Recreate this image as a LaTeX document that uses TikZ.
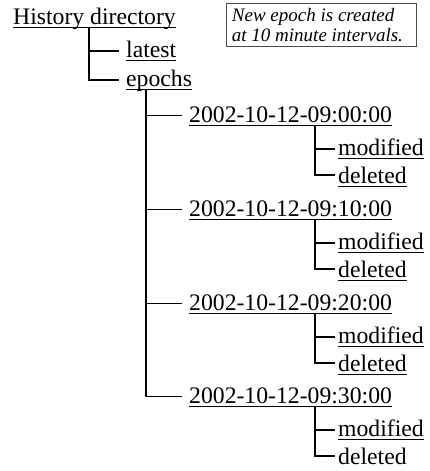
\documentclass[tikz,border=0pt]{standalone}
\usepackage{fontspec}
\setmainfont{Liberation Serif}
\begin{document}
\begin{tikzpicture}[x=1pt,y=-1pt,
  lbl/.style={anchor=base west, inner sep=0pt, font=\fontsize{23.7}{28}\selectfont},
  uline/.style={draw, line width=0.9pt},
  ul/.style={append after command={([yshift=-3pt]\tikzlastnode.base west) edge[uline] ([yshift=-3pt]\tikzlastnode.base east)}},
  branch/.style={line width=1.1pt},
  note/.style={draw=black!70, line width=0.9pt, anchor=north west, inner xsep=5.5pt, inner ysep=4.5pt,
    text width=179pt, align=flush left, font=\fontsize{19}{20.5}\selectfont\itshape},
]
\useasboundingbox (0,0) rectangle (430,471);

% root and its two children
\node[lbl,ul] (hd) at (13,24) {History directory};
\node[lbl,ul] (latest) at (126,57) {latest};
\node[lbl,ul] (epochs) at (126,86) {epochs};

% note box
\node[note] (nb) at (226,3) {New epoch is created\\at 10 minute intervals.};

% epochs and their modified entries
\foreach \i/\t/\by in {1/00/122,2/10/216,3/20/310,4/30/403}{
  \node[lbl,ul] (t\i) at (189,\by) {2002-10-12-09:\t:00};
  \node[lbl,ul] (m\i) at (338,\by+33) {modified};
}
% deleted entries
\node[lbl,ul] (d1) at (338,183) {deleted};
\node[lbl,ul] (d2) at (338,277) {deleted};
\node[lbl,ul] (d3) at (338,371) {deleted};
\node[lbl]    (d4) at (338,464) {deleted};

% tree branches
\coordinate (hdstem) at ([shift={(76pt,-3pt)}]hd.base west);
\draw[branch] (hdstem) |- ([shift={(-7pt,6pt)}]latest.base west);
\draw[branch] (hdstem) |- ([shift={(-7pt,6pt)}]epochs.base west);

\coordinate (epstem) at ([shift={(20pt,-3pt)}]epochs.base west);
\foreach \i in {1,...,4}{
  \draw[branch] (epstem) |- ([shift={(-7pt,6.5pt)}]t\i.base west);
  \coordinate (s\i) at ([shift={(126pt,-3pt)}]t\i.base west);
  \draw[branch] (s\i) |- ([shift={(-3pt,6pt)}]m\i.base west);
  \draw[branch] (s\i) |- ([shift={(-3pt,8pt)}]d\i.base west);
}
\end{tikzpicture}
\end{document}
